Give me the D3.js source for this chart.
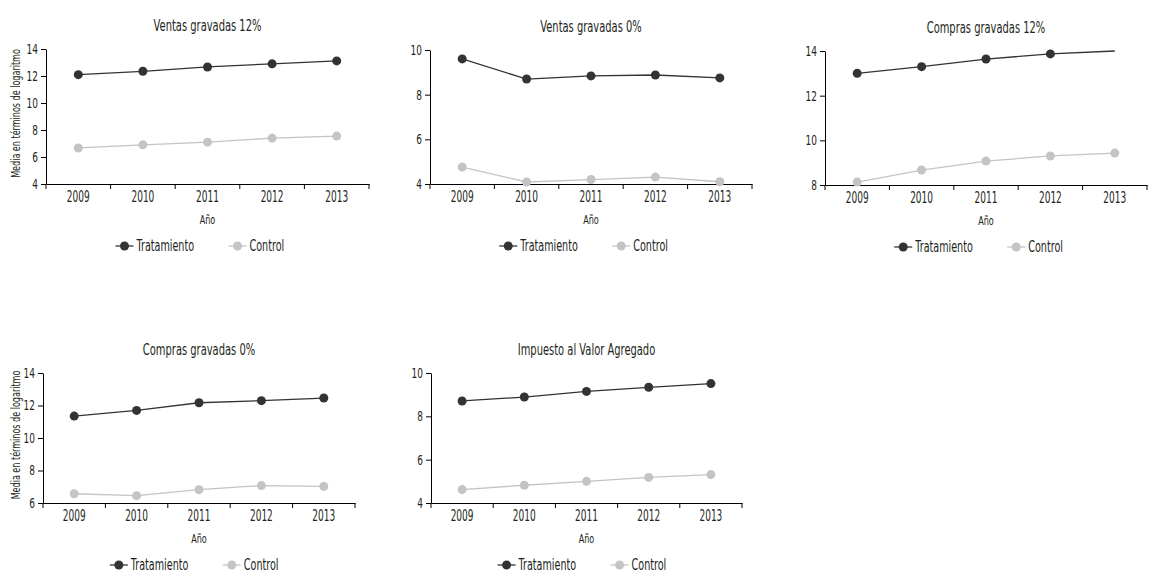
<!DOCTYPE html>
<html>
<head>
<meta charset="utf-8">
<script src="https://cdn.jsdelivr.net/npm/d3@7"></script>
<style>
  body { margin: 0; background: #fff; }
  text { font-family: "DejaVu Sans", sans-serif; fill: #231f20; }
</style>
</head>
<body>
<div id="chart"></div>
<script>

// data

const YEARS = ["2009", "2010", "2011", "2012", "2013"];
const SERIES_NAMES = ["Tratamiento", "Control"];
const TITLES = ["Ventas gravadas 12%", "Ventas gravadas 0%", "Compras gravadas 12%",
                "Compras gravadas 0%", "Impuesto al Valor Agregado"];
const Y_LABEL = "Media en términos de logaritmo";
const X_LABEL = "Año";

const TRAT_VENTAS12 = [12.1, 12.35, 12.67, 12.9, 13.12];
const CTRL_VENTAS12 = [6.67, 6.9, 7.1, 7.4, 7.55];
const TRAT_VENTAS0 = [9.6, 8.7, 8.84, 8.88, 8.75];
const CTRL_VENTAS0 = [4.76, 4.09, 4.2, 4.31, 4.1];
const TRAT_COMPRAS12 = [13.0, 13.3, 13.64, 13.87, 14.02];
const CTRL_COMPRAS12 = [8.13, 8.67, 9.07, 9.3, 9.43];
const TRAT_COMPRAS0 = [11.35, 11.7, 12.17, 12.3, 12.46];
const CTRL_COMPRAS0 = [6.57, 6.45, 6.82, 7.07, 7.02];
const TRAT_IVA = [8.71, 8.89, 9.15, 9.34, 9.51];
const CTRL_IVA = [4.62, 4.82, 5.0, 5.18, 5.31];

const TICKS_4_14 = [4, 6, 8, 10, 12, 14];
const TICKS_4_10 = [4, 6, 8, 10];
const TICKS_8_14 = [8, 10, 12, 14];
const TICKS_6_14 = [6, 8, 10, 12, 14];

// layout of each panel (plot box in page pixels)
const PANELS = [
  {title: TITLES[0], trat: TRAT_VENTAS12, ctrl: CTRL_VENTAS12, ticks: TICKS_4_14,
   left: 46, right: 369, top: 49, bottom: 184, ylabel: true},
  {title: TITLES[1], trat: TRAT_VENTAS0, ctrl: CTRL_VENTAS0, ticks: TICKS_4_10,
   left: 430, right: 752, top: 50, bottom: 184, ylabel: false},
  {title: TITLES[2], trat: TRAT_COMPRAS12, ctrl: CTRL_COMPRAS12, ticks: TICKS_8_14,
   left: 825, right: 1147, top: 51, bottom: 185, ylabel: false},
  {title: TITLES[3], trat: TRAT_COMPRAS0, ctrl: CTRL_COMPRAS0, ticks: TICKS_6_14,
   left: 43, right: 355, top: 373, bottom: 503, ylabel: true},
  {title: TITLES[4], trat: TRAT_IVA, ctrl: CTRL_IVA, ticks: TICKS_4_10,
   left: 431, right: 742, top: 373, bottom: 503, ylabel: false}
];

const COLORS = {trat: "#333333", ctrl: "#c4c4c4"};

const FRAME = d3.select("#chart")
                .append("svg")
                  .attr("width", 1151)
                  .attr("height", 585);

// the original font is a narrow one, so squeeze the text
function squeeze(sel, k) {
  sel.each(function() {
    const len = this.getComputedTextLength();
    d3.select(this)
      .attr("textLength", len * k)
      .attr("lengthAdjust", "spacingAndGlyphs");
  });
}

function build_panel(p) {

  const X_SCALE = d3.scaleBand()
                    .domain(YEARS)
                    .range([p.left, p.right]);

  const Y_SCALE = d3.scaleLinear()
                    .domain([p.ticks[0], p.ticks[p.ticks.length - 1]])
                    .range([p.bottom, p.top]);

  const G = FRAME.append("g");

  // title
  G.append("text")
      .attr("x", (p.left + p.right) / 2)
      .attr("y", p.top - 18)
      .attr("text-anchor", "middle")
      .attr("font-size", "16px")
      .text(p.title)
      .call(squeeze, 0.62);

  // y axis
  const yAxis = G.append("g")
      .attr("transform", "translate(" + p.left + ",0)")
      .call(d3.axisLeft(Y_SCALE).tickValues(p.ticks).tickFormat(d3.format("d"))
              .tickSize(5).tickSizeOuter(0));
  yAxis.select(".domain").attr("stroke", "#000");
  yAxis.selectAll("text")
      .attr("font-size", "14px")
      .attr("font-family", "DejaVu Sans")
      .attr("fill", "#231f20")
      .call(squeeze, 0.64);

  // x axis: tick marks sit on the band edges, labels at the band centres
  const xAxis = G.append("g")
      .attr("transform", "translate(0," + p.bottom + ")")
      .call(d3.axisBottom(X_SCALE).tickSize(0).tickPadding(7));
  xAxis.select(".domain").attr("stroke", "#000");
  xAxis.selectAll("text")
      .attr("font-size", "15px")
      .attr("font-family", "DejaVu Sans")
      .attr("fill", "#231f20")
      .call(squeeze, 0.6);

  const edges = YEARS.map((y) => X_SCALE(y)).concat([p.right]);
  G.selectAll(".xtick")
      .data(edges)
      .enter()
      .append("line")
        .attr("x1", (d) => d)
        .attr("x2", (d) => d)
        .attr("y1", p.bottom)
        .attr("y2", p.bottom + 5)
        .attr("stroke", "#000");

  G.append("text")
      .attr("x", (p.left + p.right) / 2)
      .attr("y", p.bottom + 40)
      .attr("text-anchor", "middle")
      .attr("font-size", "13px")
      .text(X_LABEL)
      .call(squeeze, 0.62);

  if (p.ylabel) {
    G.append("text")
        .attr("transform", "translate(20," + ((p.top + p.bottom) / 2 - 3) +
              ") rotate(-90) scale(0.62,1)")
        .attr("text-anchor", "middle")
        .attr("font-size", "13px")
        .text(Y_LABEL);
  }

  const yMax = p.ticks[p.ticks.length - 1];
  const cx = (i) => X_SCALE(YEARS[i]) + X_SCALE.bandwidth() / 2;

  // lines and markers
  [["ctrl", p.ctrl], ["trat", p.trat]].forEach(([key, vals]) => {
    const line = d3.line()
                   .x((d, i) => cx(i))
                   .y((d) => Y_SCALE(Math.min(d, yMax)));

    G.append("path")
        .datum(vals)
        .attr("d", line)
        .attr("fill", "none")
        .attr("stroke", COLORS[key])
        .attr("stroke-width", 1.3);

    G.selectAll(".pt-" + key)
        .data(vals.map((v, i) => ({v: v, i: i})).filter((d) => d.v <= yMax))
        .enter()
        .append("circle")
          .attr("cx", (d) => cx(d.i))
          .attr("cy", (d) => Y_SCALE(d.v))
          .attr("r", 4.5)
          .attr("fill", COLORS[key]);
  });

  // legend
  const LX = p.left + 0.243 * (p.right - p.left);
  const LY = p.bottom + 62;
  [["trat", 0], ["ctrl", 1]].forEach(([key, k]) => {
    const x = LX + k * 113;
    G.append("line")
        .attr("x1", x - 9).attr("x2", x + 9)
        .attr("y1", LY).attr("y2", LY)
        .attr("stroke", COLORS[key])
        .attr("stroke-width", 1.3);
    G.append("circle")
        .attr("cx", x).attr("cy", LY)
        .attr("r", 4.5)
        .attr("fill", COLORS[key]);
    G.append("text")
        .attr("x", x + 12)
        .attr("y", LY + 5)
        .attr("font-size", "16px")
        .text(SERIES_NAMES[k])
        .call(squeeze, 0.6);
  });
}

PANELS.forEach(build_panel);

</script>
</body>
</html>
